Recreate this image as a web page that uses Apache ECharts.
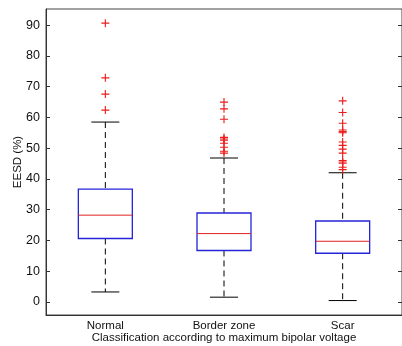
<!DOCTYPE html>
<html>
<head>
<meta charset="utf-8">
<script src="https://cdn.jsdelivr.net/npm/echarts@6/dist/echarts.min.js"></script>
<style>
html,body{margin:0;padding:0;background:#fff;}
#c{width:402px;height:346px;}
</style>
</head>
<body>
<div id="c"></div>
<script>
const categories = ['Normal', 'Border zone', 'Scar'];
const lowerWhisker = [3.2, 1.5, 0.4];
const q1 = [20.6, 16.7, 15.8];
const median = [28.2, 22.2, 19.7];
const q3 = [36.7, 28.9, 26.3];
const upperWhisker = [58.5, 46.8, 42.0];
const outliersNormal = [90.7, 72.9, 67.6, 62.4];
const outliersBorder = [65.0, 62.8, 59.4, 53.5, 53.0, 52.6, 51.6, 50.3, 49.0, 48.4];
const outliersScar = [65.4, 61.6, 58.1, 55.9, 55.4, 55.0, 52.0, 50.9, 49.7, 48.4, 46.0, 45.5, 45.1, 43.8, 43.0];
const yTicks = [0, 10, 20, 30, 40, 50, 60, 70, 80, 90];

const boxData = categories.map((c, i) => [i, lowerWhisker[i], q1[i], median[i], q3[i], upperWhisker[i]]);
const outlierData = [];
[outliersNormal, outliersBorder, outliersScar].forEach((arr, i) => arr.forEach(v => outlierData.push([i, v])));

function renderBox(params, api) {
  const idx = api.value(0);
  const lo = api.coord([idx, api.value(1)]);
  const b1 = api.coord([idx, api.value(2)]);
  const md = api.coord([idx, api.value(3)]);
  const b3 = api.coord([idx, api.value(4)]);
  const hi = api.coord([idx, api.value(5)]);
  const band = api.size([1, 0])[0];
  const bw = band * 0.455;
  const cw = band * 0.236;
  const x = lo[0];
  const dash = {stroke: '#000', lineWidth: 1, lineDash: [6, 4]};
  return {
    type: 'group',
    children: [
      {type: 'line', shape: {x1: x, y1: hi[1], x2: x, y2: b3[1]}, style: dash},
      {type: 'line', shape: {x1: x, y1: b1[1], x2: x, y2: lo[1]}, style: dash},
      {type: 'line', shape: {x1: x - cw / 2, y1: hi[1], x2: x + cw / 2, y2: hi[1]}, style: {stroke: '#000', lineWidth: 1}},
      {type: 'line', shape: {x1: x - cw / 2, y1: lo[1], x2: x + cw / 2, y2: lo[1]}, style: {stroke: '#000', lineWidth: 1}},
      {type: 'rect', shape: {x: x - bw / 2, y: b3[1], width: bw, height: b1[1] - b3[1]}, style: {fill: 'none', stroke: '#2424d8', lineWidth: 1.3}},
      {type: 'line', shape: {x1: x - bw / 2, y1: md[1], x2: x + bw / 2, y2: md[1]}, style: {stroke: '#e02020', lineWidth: 1}}
    ]
  };
}

const chart = echarts.init(document.getElementById('c'), null, {renderer: 'canvas'});
const fontFamily = 'Liberation Sans, Arial, sans-serif';
chart.setOption({
  animation: false,
  backgroundColor: '#fff',
  grid: {left: 46, right: 0, top: 9, bottom: 31, containLabel: false, outerBoundsMode: 'none', show: true, borderColor: '#444', borderWidth: 1, backgroundColor: 'transparent'},
  xAxis: {
    type: 'category',
    data: categories,
    boundaryGap: true,
    axisLine: {onZero: false, lineStyle: {color: '#333'}},
    axisTick: {show: false},
    axisLabel: {color: '#111', fontSize: 11.5, fontFamily: fontFamily, margin: 5},
    name: 'Classification according to maximum bipolar voltage',
    nameLocation: 'middle',
    nameGap: 17,
    nameMoveOverlap: false,
    nameTextStyle: {color: '#111', fontSize: 11.5, fontFamily: fontFamily}
  },
  yAxis: [{
    type: 'value',
    min: -4.3,
    max: 95.3,
    axisLine: {show: true, lineStyle: {color: '#333'}},
    axisTick: {show: true, inside: true, length: 4, customValues: yTicks, lineStyle: {color: '#333'}},
    axisLabel: {customValues: yTicks, color: '#111', fontSize: 12.5, fontFamily: fontFamily, margin: 6},
    splitLine: {show: false},
    name: 'EESD (%)',
    nameLocation: 'middle',
    nameGap: 22,
    nameMoveOverlap: false,
    nameRotate: 90,
    nameTextStyle: {color: '#111', fontSize: 11.5, fontFamily: fontFamily}
  }, {
    type: 'value',
    position: 'right',
    min: -4.3,
    max: 95.3,
    axisLine: {show: true, lineStyle: {color: '#333'}},
    axisTick: {show: true, inside: true, length: 4, customValues: yTicks, lineStyle: {color: '#333'}},
    axisLabel: {show: false},
    splitLine: {show: false}
  }],
  series: [{
    type: 'custom',
    renderItem: renderBox,
    data: boxData,
    encode: {x: 0, y: [1, 2, 3, 4, 5]},
    z: 2
  }, {
    type: 'scatter',
    data: outlierData,
    symbol: 'path://M0,4.3H10V5.7H0Z M4.3,0H5.7V10H4.3Z',
    symbolSize: 8,
    itemStyle: {color: '#ee1c1c', opacity: 1},
    z: 3
  }]
});
</script>
</body>
</html>
